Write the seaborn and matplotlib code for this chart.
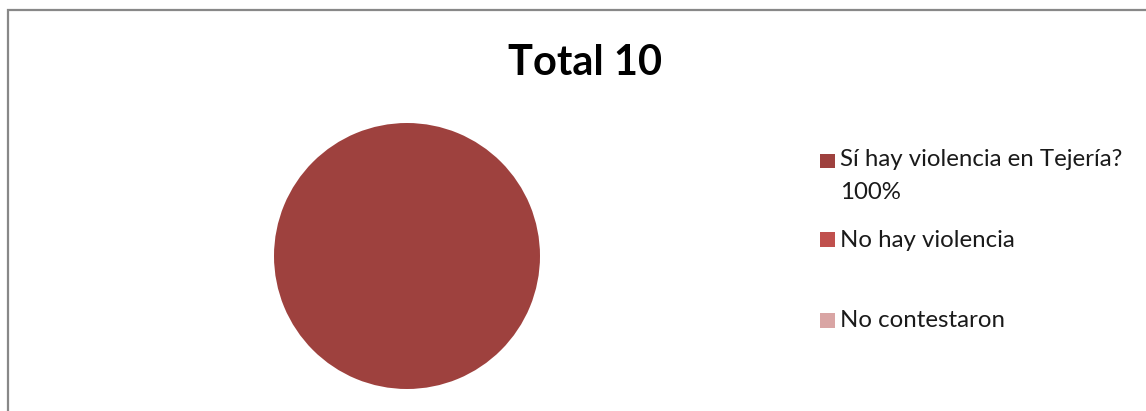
import matplotlib
matplotlib.use("Agg")
import matplotlib.pyplot as plt
from matplotlib.patches import Rectangle
import seaborn as sns

# data
categories = ["Sí hay violencia en Tejería?\n100%", "No hay violencia", "No contestaron"]
values = [10, 0, 0]
colors = ["#9E413E", "#C0504D", "#D9A5A4"]
title = "Total 10"

sns.set_theme(style="white")
plt.rcParams["font.family"] = ["Lato", "DejaVu Sans"]

W, H = 1146, 411
fig = plt.figure(figsize=(W / 100, H / 100), dpi=100)
fig.patch.set_facecolor("white")

# chart frame (cut at the right and bottom like the source)
fig.patches.append(Rectangle((7.5 / W, -0.1), 1.2, 1 - 10.5 / H + 0.1,
                             transform=fig.transFigure, fill=False,
                             edgecolor="#888888", linewidth=1.6))

# pie
cx, cy, r = 407, 256, 133
ax = fig.add_axes([(cx - r) / W, (H - cy - r) / H, 2 * r / W, 2 * r / H])
wedges, _ = ax.pie(values, colors=colors, startangle=90, counterclock=False,
                   wedgeprops=dict(linewidth=0))
ax.set_xlim(-1, 1)
ax.set_ylim(-1, 1)
ax.set_aspect("equal")
ax.axis("off")

fig.text(585 / W, 1 - 63 / H, title, ha="center", va="center",
         fontsize=30, fontweight="bold", color="black")

# legend (Excel-style uneven spacing)
marker_y = [161, 240, 320]
text_base = [166, 247, 327]
for lab, col, my, ty in zip(categories, colors, marker_y, text_base):
    fig.patches.append(Rectangle((820 / W, 1 - (my + 7.5) / H), 15 / W, 15 / H,
                                 transform=fig.transFigure, facecolor=col,
                                 edgecolor="none"))
    for i, line in enumerate(lab.split("\n")):
        fig.text(840 / W, 1 - (ty + 33 * i) / H, line, ha="left", va="baseline",
                 fontsize=17.3, color="#1a1a1a")

fig.savefig("out.png", dpi=100, facecolor="white")
